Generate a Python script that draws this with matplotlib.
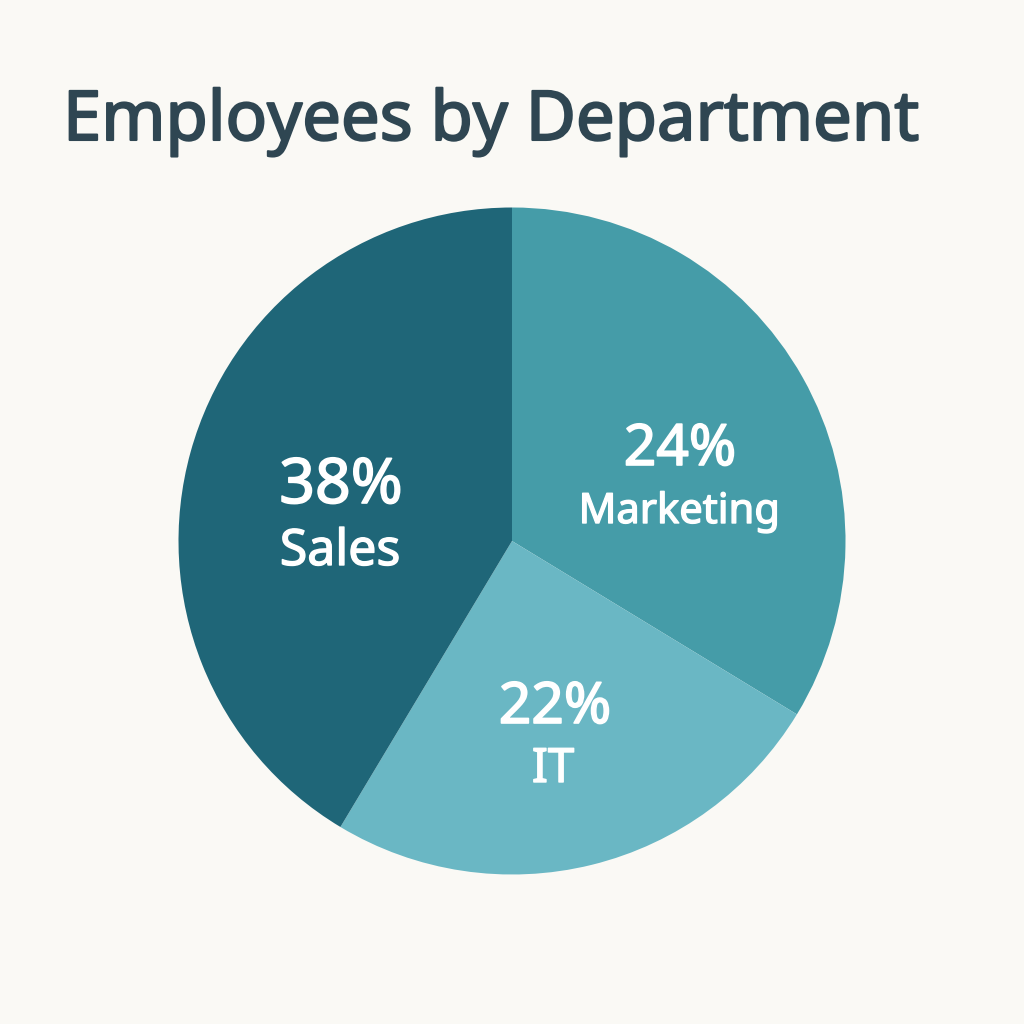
import matplotlib
matplotlib.use("Agg")
import matplotlib.pyplot as plt
import matplotlib.patheffects as pe

# data
departments = ["Marketing", "IT", "Sales"]
slice_sizes = [33.7, 24.9, 41.4]          # drawn wedge sizes
pct_labels = ["24%", "22%", "38%"]        # text printed on the wedges
colors = ["#459ca8", "#6ab7c4", "#1f6678"]

BG = "#faf9f5"
TITLE_COLOR = "#2f4652"
FONT = "Noto Sans"

fig = plt.figure(figsize=(10.24, 10.24), dpi=100, facecolor=BG)

# pie centre (512, 541) px, radius 333.5 px
cx, cy, r = 512, 541, 333.5
ax = fig.add_axes([(cx - r) / 1024, (1024 - cy - r) / 1024, 2 * r / 1024, 2 * r / 1024])
ax.set_facecolor(BG)

wedges, _ = ax.pie(slice_sizes, colors=colors, startangle=90, counterclock=False,
                   radius=1.0, wedgeprops=dict(linewidth=0))
ax.set_xlim(-1, 1)
ax.set_ylim(-1, 1)
ax.set_aspect("equal")
ax.axis("off")


def px(x, y):
    # pixel position -> pie data units
    return (x - cx) / r, (cy - y) / r


def bolder(color, w):
    # slightly heavier strokes than the regular face
    return [pe.withStroke(linewidth=w, foreground=color)]


# label anchors (baseline centres, in pixels) and font sizes
pct_pos = [(680, 465), (555, 723), (341, 503)]
name_pos = [(679, 523), (553, 782), (340, 565)]
pct_size = [41, 41, 45]
name_size = [30, 34, 36]

for i in range(len(departments)):
    x, y = px(*pct_pos[i])
    ax.text(x, y, pct_labels[i], ha="center", va="baseline", color="white",
            fontsize=pct_size[i], family=FONT, path_effects=bolder("white", 1.2))
    x, y = px(*name_pos[i])
    ax.text(x, y, departments[i], ha="center", va="baseline", color="white",
            fontsize=name_size[i], family=FONT, path_effects=bolder("white", 1.0))

fig.text(63 / 1024, 1 - 140 / 1024, "Employees by Department", ha="left", va="baseline",
         fontsize=49.5, color=TITLE_COLOR, family=FONT,
         path_effects=bolder(TITLE_COLOR, 1.5))

fig.savefig("out.png", dpi=100, facecolor=BG)
